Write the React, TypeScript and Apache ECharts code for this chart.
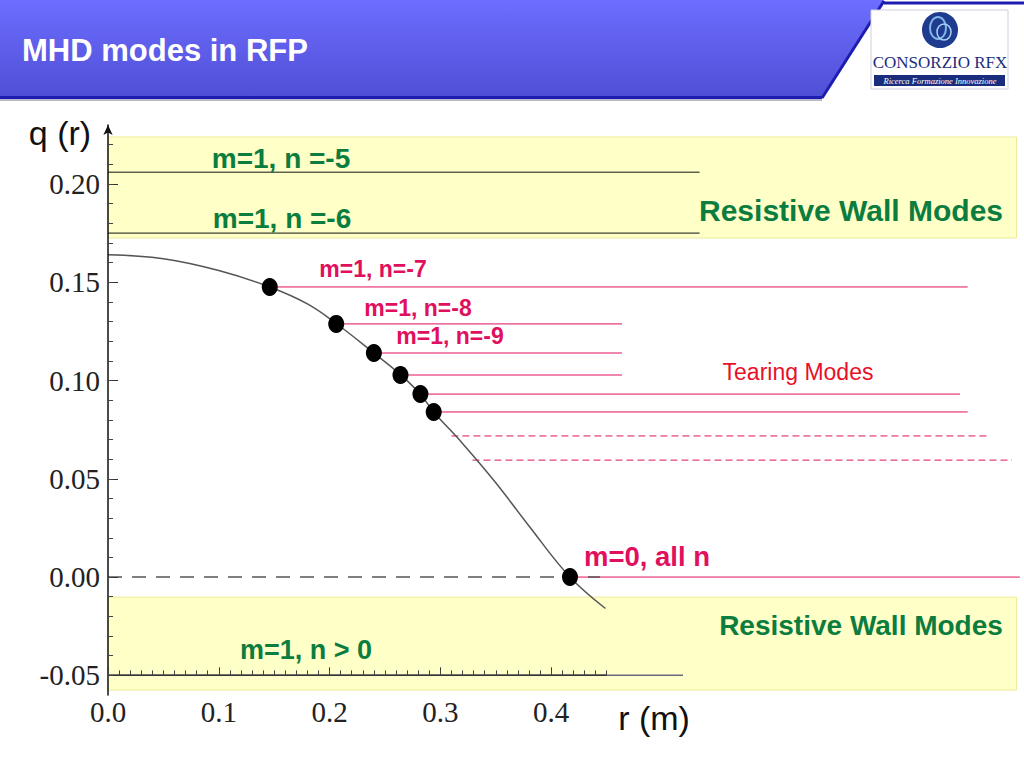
import React, { useEffect, useRef } from "react";
import * as echarts from "echarts";

// ---- data ----
const curveR = [0, 0.05, 0.1, 0.146, 0.18, 0.206, 0.24, 0.264, 0.282, 0.294, 0.32, 0.35, 0.38, 0.417, 0.449];
const curveQ = [0.164, 0.162, 0.156, 0.1476, 0.139, 0.129, 0.114, 0.103, 0.093, 0.084, 0.068, 0.048, 0.026, 0.0, -0.016];

const dotR = [0.146, 0.206, 0.24, 0.264, 0.282, 0.294, 0.417];
const dotQ = [0.1476, 0.1288, 0.114, 0.1028, 0.0931, 0.084, 0.0];

// resistive wall mode lines (black)
const rwmQ = [0.206, 0.175];
const rwmStart = [0, 0];
const rwmEnd = [0.534, 0.534];

// tearing mode lines (crimson, solid)
const tearQ = [0.1476, 0.1288, 0.114, 0.1028, 0.0931, 0.084, 0.0];
const tearStart = [0.146, 0.206, 0.24, 0.264, 0.282, 0.294, 0.419];
const tearEnd = [0.776, 0.464, 0.464, 0.464, 0.769, 0.776, 0.823];

// tearing mode lines (crimson, dashed)
const tearDashQ = [0.0718, 0.0595];
const tearDashStart = [0.31, 0.329];
const tearDashEnd = [0.794, 0.816];

// reference lines
const zeroLine = { q: 0, r0: 0, r1: 0.444 };
const negLine = { q: -0.05, r0: 0, r1: 0.519 };
const axisSeg = { q: -0.05, r0: 0, r1: 0.45 };

// yellow bands (q ranges)
const bandTop = [0.2239, 0.1725];
const bandBottom = [-0.0102, -0.0575];
const bandR = [-0.002, 0.82];

// ticks
const yMajor = [-0.05, 0, 0.05, 0.1, 0.15, 0.2];
const xMajor = [0, 0.1, 0.2, 0.3, 0.4];

const Y_MIN = -0.06;
const Y_MAX = 0.23;
const X_MIN = 0;
const X_MAX = 0.825;

const GREEN = "#0b7d3e";
const CRIMSON = "#e0105e";
const SANS = "'Liberation Sans', Arial, sans-serif";
const SERIF = "'Liberation Serif', 'Times New Roman', serif";

function range(a: number, b: number, step: number): number[] {
  const out: number[] = [];
  const n = Math.round((b - a) / step);
  for (let i = 0; i <= n; i++) out.push(Number((a + i * step).toFixed(4)));
  return out;
}

export default function App() {
  const ref = useRef<HTMLDivElement>(null);
  useEffect(() => {
    if (!ref.current) return;
    const chart = echarts.init(ref.current, undefined, { renderer: "svg" });

    const seg = (q: number, r0: number, r1: number) => [[r0, q], [r1, q]];

    const series: any[] = [];
    // bands
    series.push({
      type: "line",
      data: [],
      z: 1,
      silent: true,
      markArea: {
        silent: true,
        itemStyle: { color: "#ffffc8", borderColor: "#ecec9a", borderWidth: 1 },
        data: [
          [{ coord: [bandR[0], bandTop[0]] }, { coord: [bandR[1], bandTop[1]] }],
          [{ coord: [bandR[0], bandBottom[0]] }, { coord: [bandR[1], bandBottom[1]] }],
        ],
      },
    });
    rwmQ.forEach((q, i) =>
      series.push({
        type: "line", data: seg(q, rwmStart[i], rwmEnd[i]), symbol: "none", z: 3,
        lineStyle: { color: "#111", width: 1 },
      })
    );
    tearQ.forEach((q, i) =>
      series.push({
        type: "line", data: seg(q, tearStart[i], tearEnd[i]), symbol: "none", z: 3,
        lineStyle: { color: CRIMSON, width: 1 },
      })
    );
    tearDashQ.forEach((q, i) =>
      series.push({
        type: "line", data: seg(q, tearDashStart[i], tearDashEnd[i]), symbol: "none", z: 3,
        lineStyle: { color: CRIMSON, width: 1, type: [7, 4] },
      })
    );
    series.push({
      type: "line", data: seg(zeroLine.q, zeroLine.r0, zeroLine.r1), symbol: "none", z: 3,
      lineStyle: { color: "#555", width: 1.5, type: [14, 10] },
    });
    series.push({
      type: "line", data: seg(negLine.q, negLine.r0, negLine.r1), symbol: "none", z: 3,
      lineStyle: { color: "#6a6a80", width: 1.5 },
    });
    series.push({
      type: "line", data: seg(axisSeg.q, axisSeg.r0, axisSeg.r1), symbol: "none", z: 4,
      lineStyle: { color: "#333", width: 1.5 },
    });
    series.push({
      type: "line", data: curveR.map((r, i) => [r, curveQ[i]]), symbol: "none", smooth: 0.4, z: 5,
      lineStyle: { color: "#555", width: 1.5 },
    });
    series.push({
      type: "scatter", data: dotR.map((r, i) => [r, dotQ[i]]), symbol: "circle", symbolSize: [16, 18], z: 6,
      itemStyle: { color: "#000", opacity: 1 },
    });

    const txt = (text: string, x: number, y: number, size: number, color: string, opts: any = {}) => ({
      type: "text",
      x,
      y,
      z: 100,
      style: {
        text,
        fill: color,
        fontSize: size,
        fontFamily: opts.family || SANS,
        fontWeight: opts.weight || "bold",
        fontStyle: opts.style || "normal",
        textAlign: opts.align || "left",
        textVerticalAlign: "middle",
      },
    });

    const graphic: any[] = [
      // header band
      {
        type: "polygon",
        z: 10,
        shape: { points: [[0, 0], [884, 0], [822, 96], [0, 96]] },
        style: {
          fill: new echarts.graphic.LinearGradient(0, 0, 0, 1, [
            { offset: 0, color: "#6d6dff" },
            { offset: 1, color: "#4f4fd6" },
          ]),
        },
      },
      { type: "rect", z: 11, shape: { x: 0, y: 96, width: 822, height: 3 }, style: { fill: "#1c1cb0" } },
      { type: "rect", z: 11, shape: { x: 0, y: 99, width: 822, height: 2 }, style: { fill: "#b8b8c8" } },
      { type: "line", z: 11, shape: { x1: 884, y1: 1, x2: 822, y2: 98 }, style: { stroke: "#1c1cb0", lineWidth: 3 } },
      { type: "line", z: 11, shape: { x1: 884, y1: 3, x2: 1024, y2: 3 }, style: { stroke: "#1c1cb0", lineWidth: 3 } },
      txt("MHD modes in RFP", 22, 50, 31, "#ffffff"),
      // logo
      { type: "rect", z: 11, shape: { x: 871, y: 10, width: 137, height: 79 }, style: { fill: "#fff", stroke: "#cfcfdf", lineWidth: 1 } },
      { type: "circle", z: 12, shape: { cx: 940, cy: 30, r: 18 }, style: { fill: "#1f3b8f" } },
      { type: "ellipse", z: 13, shape: { cx: 938, cy: 28, rx: 8, ry: 11 }, style: { fill: "none", stroke: "#7fb6e8", lineWidth: 2 } },
      { type: "ellipse", z: 13, shape: { cx: 944, cy: 32, rx: 7, ry: 8 }, style: { fill: "none", stroke: "#a8d4f4", lineWidth: 1.5 } },
      txt("CONSORZIO RFX", 940, 62, 17, "#1a2d7c", { family: SERIF, weight: "normal", align: "center" }),
      { type: "rect", z: 11, shape: { x: 874, y: 75, width: 131, height: 11 }, style: { fill: "#1a2d7c" } },
      txt("Ricerca Formazione Innovazione", 940, 80.5, 8.5, "#ffffff", { family: SERIF, weight: "normal", style: "italic", align: "center" }),
      // axis titles
      txt("q (r)", 60, 133, 34, "#111", { weight: "normal", align: "center" }),
      txt("r (m)", 654, 718, 34, "#111", { weight: "normal", align: "center" }),
      // annotations
      txt("m=1, n =-5", 281, 158, 28, GREEN, { align: "center" }),
      txt("m=1, n =-6", 282, 218, 28, GREEN, { align: "center" }),
      txt("Resistive Wall Modes", 851, 210, 30, GREEN, { align: "center" }),
      txt("Resistive Wall Modes", 861, 625, 28, GREEN, { align: "center" }),
      txt("m=1, n > 0", 306, 650, 27, GREEN, { align: "center" }),
      txt("m=1, n=-7", 373, 269, 23, CRIMSON, { align: "center" }),
      txt("m=1, n=-8", 418, 308, 23, CRIMSON, { align: "center" }),
      txt("m=1, n=-9", 450, 336, 23, CRIMSON, { align: "center" }),
      txt("Tearing Modes", 798, 372, 23, "#e8102a", { align: "center", weight: "normal" }),
      txt("m=0, all n", 647, 556, 27.5, CRIMSON, { align: "center" }),
    ];

    const option: any = {
      animation: false,
      backgroundColor: "#ffffff",
      grid: { left: 108, top: 125, width: 914, height: 570, containLabel: false },
      xAxis: [
        {
          type: "value", min: X_MIN, max: X_MAX, position: "bottom", offset: -19.65, z: 8,
          axisLine: { show: false, onZero: false },
          splitLine: { show: false },
          axisTick: { show: true, inside: true, length: 8, customValues: xMajor, lineStyle: { color: "#333", width: 1 } },
          axisLabel: {
            show: true, customValues: xMajor, margin: 22,
            formatter: (v: number) => v.toFixed(1),
            fontFamily: SERIF, fontSize: 29, color: "#222",
          },
        },
        {
          type: "value", min: X_MIN, max: X_MAX, position: "bottom", offset: -19.65, z: 8,
          axisLine: { show: false, onZero: false },
          splitLine: { show: false },
          axisTick: { show: true, inside: true, length: 5, customValues: range(0, 0.45, 0.01), lineStyle: { color: "#444", width: 1 } },
          axisLabel: { show: false },
        },
      ],
      yAxis: [
        {
          type: "value", min: Y_MIN, max: Y_MAX, position: "left", z: 8,
          axisLine: { show: true, onZero: false, symbol: ["none", "arrow"], symbolSize: [7, 10], lineStyle: { color: "#111", width: 1.5 } },
          splitLine: { show: false },
          axisTick: { show: true, inside: true, length: 10, customValues: yMajor, lineStyle: { color: "#333", width: 1 } },
          axisLabel: {
            show: true, customValues: yMajor, margin: 8,
            formatter: (v: number) => v.toFixed(2),
            fontFamily: SERIF, fontSize: 29, color: "#222",
          },
        },
        {
          type: "value", min: Y_MIN, max: Y_MAX, position: "left", z: 8,
          axisLine: { show: false, onZero: false },
          splitLine: { show: false },
          axisTick: { show: true, inside: true, length: 5, customValues: range(-0.05, 0.22, 0.01), lineStyle: { color: "#444", width: 1 } },
          axisLabel: { show: false },
        },
      ],
      series,
      graphic,
    };

    chart.setOption(option);
    return () => chart.dispose();
  }, []);

  return (
    <div
      ref={ref}
      style={{ position: "fixed", left: 0, top: 0, width: 1024, height: 768, background: "#fff" }}
    />
  );
}
